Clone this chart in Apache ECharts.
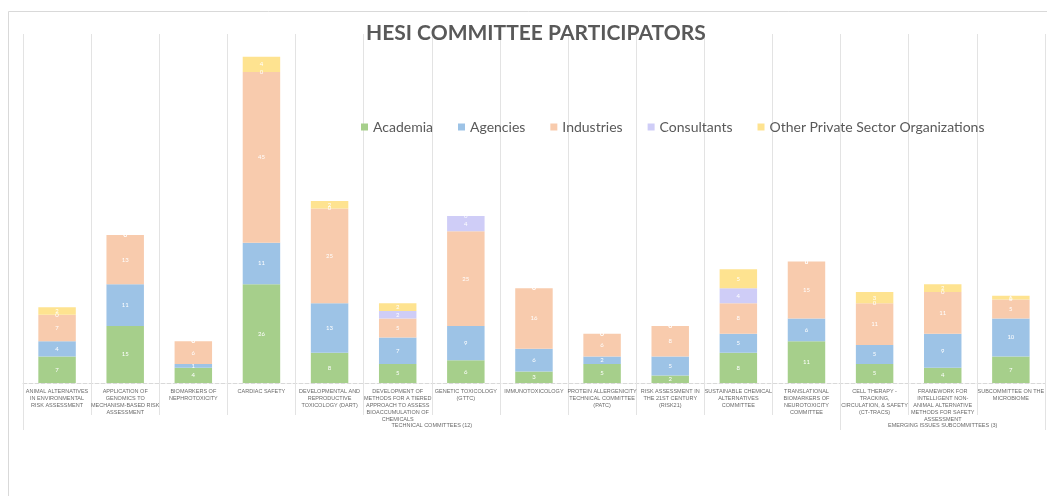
<!DOCTYPE html>
<html>
<head>
<meta charset="utf-8">
<script src="https://cdn.jsdelivr.net/npm/echarts@6/dist/echarts.min.js"></script>
<style>html,body{margin:0;padding:0;background:#fff}#c{width:1047px;height:496px}</style>
</head>
<body>
<div id="c"></div>
<script>
const categories = [
  "ANIMAL ALTERNATIVES\nIN ENVIRONMENTAL\nRISK ASSESSMENT",
  "APPLICATION OF\nGENOMICS TO\nMECHANISM-BASED RISK\nASSESSMENT",
  "BIOMARKERS OF\nNEPHROTOXICITY",
  "CARDIAC SAFETY",
  "DEVELOPMENTAL AND\nREPRODUCTIVE\nTOXICOLOGY (DART)",
  "DEVELOPMENT OF\nMETHODS FOR A TIERED\nAPPROACH TO ASSESS\nBIOACCUMULATION OF\nCHEMICALS",
  "GENETIC TOXICOLOGY\n(GTTC)",
  "IMMUNOTOXICOLOGY",
  "PROTEIN ALLERGENICITY\nTECHNICAL COMMITTEE\n(PATC)",
  "RISK ASSESSMENT IN\nTHE 21ST CENTURY\n(RISK21)",
  "SUSTAINABLE CHEMICAL\nALTERNATIVES\nCOMMITTEE",
  "TRANSLATIONAL\nBIOMARKERS OF\nNEUROTOXICITY\nCOMMITTEE",
  "CELL THERAPY -\nTRACKING,\nCIRCULATION, & SAFETY\n(CT-TRACS)",
  "FRAMEWORK FOR\nINTELLIGENT NON-\nANIMAL ALTERNATIVE\nMETHODS FOR SAFETY\nASSESSMENT",
  "SUBCOMMITTEE ON THE\nMICROBIOME"
];
const groupNames = ["TECHNICAL COMMITTEES (12)", "EMERGING ISSUES SUBCOMMITTEES (3)"];
const groupSizes = [12, 3];
const academia    = [7, 15, 4, 26, 8, 5, 6, 3, 5, 2, 8, 11, 5, 4, 7];
const agencies    = [4, 11, 1, 11, 13, 7, 9, 6, 2, 5, 5, 6, 5, 9, 10];
const industries  = [7, 13, 6, 45, 25, 5, 25, 16, 6, 8, 8, 15, 11, 11, 5];
const consultants = [0, 0, 0, 0, 0, 2, 4, 0, 0, 0, 4, 0, 0, 0, 0];
const otherPrivate= [2, 0, 0, 4, 2, 2, 0, 0, 0, 0, 5, 0, 3, 2, 1];
const seriesNames = ["Academia", "Agencies", "Industries", "Consultants", "Other Private Sector Organizations"];
const seriesColors = ["#a6cf8b", "#9dc3e6", "#f8cbad", "#cfcdf7", "#fee390"];

const chart = echarts.init(document.getElementById('c'));
const allData = [academia, agencies, industries, consultants, otherPrivate];

const bounds = [0]; groupSizes.forEach(s => bounds.push(bounds[bounds.length-1] + s));
const centres = groupSizes.map((s, i) => bounds[i] + s / 2);

const series = allData.map((d, i) => ({
  name: seriesNames[i],
  type: 'bar',
  stack: 'total',
  data: d,
  barWidth: '55%',
  itemStyle: { color: seriesColors[i] },
  label: { show: true, position: 'inside', color: '#ffffff', fontSize: 6, fontFamily: 'Lato' }
}));

chart.setOption({
  animation: false,
  backgroundColor: '#ffffff',
  title: {
    text: 'HESI COMMITTEE PARTICIPATORS',
    left: 361, top: 18,
    textStyle: { fontFamily: 'Lato', fontWeight: 'bold', fontSize: 21, color: '#595959' }
  },
  legend: {
    data: seriesNames,
    left: 356, top: 115,
    icon: 'rect', itemWidth: 7, itemHeight: 7, itemGap: 25,
    textStyle: { fontFamily: 'Lato', fontSize: 14, color: '#595959' }
  },
  graphic: [{
    type: 'rect', shape: { x: 8.5, y: 11.5, width: 1060, height: 500 },
    style: { fill: 'none', stroke: '#d9d9d9', lineWidth: 1 }, silent: true, z: -10
  }],
  grid: { left: 23, right: -3, top: 34, bottom: 113, containLabel: false },
  xAxis: [{
    type: 'category',
    data: categories,
    boundaryGap: true,
    axisLine: { show: true, lineStyle: { color: '#d9d9d9', type: 'dashed' } },
    axisTick: { show: true, interval: 0, length: 32, lineStyle: { color: '#e3e3e3' } },
    splitLine: { show: true, interval: 0, lineStyle: { color: '#e3e3e3' } },
    axisLabel: { interval: 0, margin: 5, fontSize: 5.5, lineHeight: 7, color: '#6a6a6a', fontFamily: 'Liberation Sans', verticalAlign: 'top' }
  }, {
    type: 'value',
    position: 'bottom',
    min: 0, max: bounds[bounds.length-1],
    axisLine: { show: false },
    splitLine: { show: false },
    axisTick: { show: true, customValues: bounds, length: 47, lineStyle: { color: '#e3e3e3' } },
    axisLabel: {
      show: true, customValues: centres, margin: 39,
      formatter: v => { const i = centres.indexOf(v); return i >= 0 ? groupNames[i] : ''; },
      fontSize: 5.5, color: '#6a6a6a', fontFamily: 'Liberation Sans'
    }
  }],
  yAxis: { type: 'value', min: 0, max: 92, show: false, splitLine: { show: false } },
  series: series
});
</script>
</body>
</html>
